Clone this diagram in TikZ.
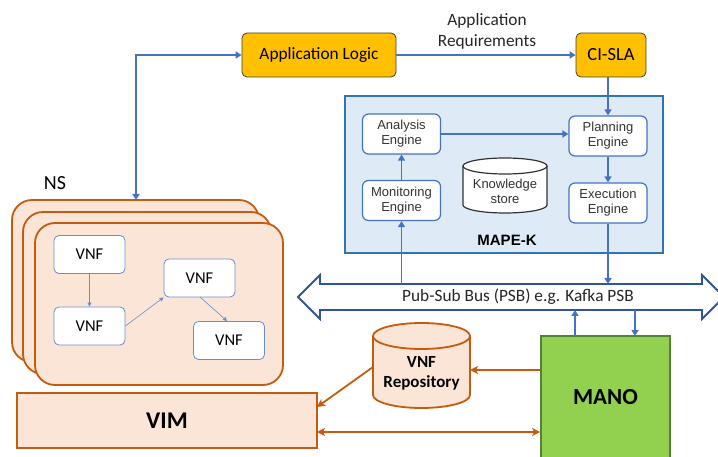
\documentclass[tikz,border=0pt]{standalone}
\usepackage{fontspec}
\setmainfont{Carlito}
\newfontfamily\arialf{Liberation Sans}
\usetikzlibrary{arrows.meta}
\definecolor{ablue}{HTML}{4472C4}
\definecolor{mblue}{HTML}{2E75B6}
\definecolor{lblue}{HTML}{DEEBF7}
\definecolor{gold}{HTML}{FFC000}
\definecolor{oline}{HTML}{C55A11}
\definecolor{ofill}{HTML}{FBE5D6}
\definecolor{mgreen}{HTML}{92D050}
\definecolor{dgreen}{HTML}{548235}
\definecolor{busb}{HTML}{2F5597}
\newcommand{\mycyl}[6]{% cx, top, bottom, rx, ry, style
  \path[#6] (#1-#4,#2+#5) -- (#1-#4,#3-#5)
    arc[start angle=180,end angle=0,x radius=#4,y radius=#5]
    -- (#1+#4,#2+#5)
    arc[start angle=0,end angle=-180,x radius=#4,y radius=#5] -- cycle;
  \draw[#6,fill=none] (#1-#4,#2+#5) arc[start angle=180,end angle=0,x radius=#4,y radius=#5];
}
\tikzset{
  x=1pt,y=-1pt,
  gbox/.style={draw=black!75,line width=0.8pt,fill=gold,rounded corners=5pt,font=\fontsize{17.3}{19}\selectfont},
  eng/.style={draw=ablue,line width=1.2pt,fill=white,rounded corners=6pt,minimum width=78pt,minimum height=40pt,align=center,font=\arialf\fontsize{13}{15}\selectfont,text=black!80},
  vnf/.style={draw=ablue!80,line width=0.8pt,fill=white,rounded corners=5pt,minimum width=71pt,minimum height=38pt,font=\fontsize{16.5}{18}\selectfont},
  ba/.style={draw=ablue,line width=1.8pt,-{Triangle[length=6pt,width=7pt]}},
  bb/.style={draw=ablue,line width=1.8pt,{Triangle[length=6pt,width=7pt]}-{Triangle[length=6pt,width=7pt]}},
  thin/.style={draw=ablue!80,line width=0.6pt,-{Triangle[length=4pt,width=4pt]}},
  oa/.style={draw=oline,line width=1.8pt,-{Stealth[length=8pt,width=8pt,inset=2pt]}},
  ob/.style={draw=oline,line width=1.8pt,{Stealth[length=8pt,width=8pt,inset=2pt]}-{Stealth[length=8pt,width=8pt,inset=2pt]}},
  nsbox/.style={draw=oline,line width=1.8pt,fill=ofill,rounded corners=20pt},
}
\begin{document}
\begin{tikzpicture}
\useasboundingbox (0,0) rectangle (718,457);
\begin{scope}
\clip (0,0) rectangle (718,457);
% top boxes
\node[gbox,minimum width=154pt,minimum height=44pt] (app) at (319,55) {Application Logic};
\node[gbox,minimum width=70pt,minimum height=44pt,font=\fontsize{18.5}{20}\selectfont] (sla) at (611,55) {CI-SLA};
\node[align=center,font=\fontsize{17.3}{21}\selectfont,text=black!85] (req) at (487,31) {Application\\Requirements};
\draw[ba] (app.east) -- (sla.west);
% MAPE-K
\node[draw=mblue,line width=1.8pt,fill=lblue,minimum width=318pt,minimum height=157pt] (mape) at (504,174.5) {};
\node[font=\arialf\bfseries\fontsize{15}{17}\selectfont] (mapel) at (507,240) {MAPE-K};
\node[eng] (ana) at (401.5,134) {Analysis\\Engine};
\node[eng] (mon) at (401.5,200.5) {Monitoring\\Engine};
\node[eng] (pla) at (608,136) {Planning\\Engine};
\node[eng] (exe) at (608,203) {Execution\\Engine};
\mycyl{505}{158}{213}{42}{8}{draw=black!80,line width=1.2pt,fill=white}
\node[align=center,font=\arialf\fontsize{13}{15}\selectfont,text=black!80] (ks) at (505,191) {Knowledge\\store};
\draw[ba] (ana.east) -- (ana.east -| pla.west);
\draw[ba] (mon.north) -- (ana.south);
\draw[ba] (pla.south) -- (exe.north);
\draw[ba] (sla.south -| pla.north) -- (pla.north);
% bus
\draw[draw=busb,line width=1.8pt,fill=white] (298,297) -- (320,275) -- (320,284) -- (702,284) -- (702,275) -- (724,297) -- (702,319) -- (702,310) -- (320,310) -- (320,319) -- cycle;
\node[font=\fontsize{17.3}{19}\selectfont,text=black!85] (bus) at (518,297) {Pub-Sub Bus (PSB) e.g. Kafka PSB};
\coordinate (busT) at (500,284);
\coordinate (busB) at (500,310);
\draw[ba] (mon.south |- busT) -- (mon.south);
\draw[ba] (exe.south) -- (exe.south |- busT);
% MANO
\node[draw=dgreen,line width=1.8pt,fill=mgreen,minimum width=129pt,minimum height=122pt,font=\bfseries\fontsize{23}{25}\selectfont] (mano) at (605.5,397) {MANO};
\draw[ba] (575,336) -- (575,310);
\draw[ba] (635,310) -- (635,336);
% NS stack
\node[font=\fontsize{20}{22}\selectfont] (ns) at (55,183) {NS};
\draw[nsbox] (12,200) rectangle (259,362);
\draw[nsbox] (23,212) rectangle (271,374);
\draw[nsbox] (35,223) rectangle (283,385);
\coordinate (nstop) at (136,200);
\node[vnf] (v1) at (89.5,254.5) {VNF};
\node[vnf] (v2) at (89.5,326) {VNF};
\node[vnf] (v3) at (199.5,278) {VNF};
\node[vnf] (v4) at (229,340.5) {VNF};
\draw[thin] (v1.south) -- (v2.north);
\draw[thin] (v2.east) -- (v3.south west);
\draw[thin] (200,297) -- (227,321);
\draw[bb] (app.west) -- (136,55) -- (nstop);
% VIM
\node[draw=oline,line width=1.8pt,fill=ofill,minimum width=300pt,minimum height=55pt,font=\bfseries\fontsize{24}{26}\selectfont] (vim) at (167,420.5) {VIM};
% VNF repository
\mycyl{421.5}{323}{408}{48.5}{13}{draw=oline,line width=1.8pt,fill=ofill}
\node[align=center,font=\bfseries\fontsize{17}{20}\selectfont] (repo) at (421.5,373) {VNF\\Repository};
\draw[oa] (mano.west |- 0,370) -- (470,370);
\draw[oa] (373,367) -- (317,407);
\draw[ob] (317,432) -- (mano.west |- 0,432);
\end{scope}
\end{tikzpicture}
\end{document}
